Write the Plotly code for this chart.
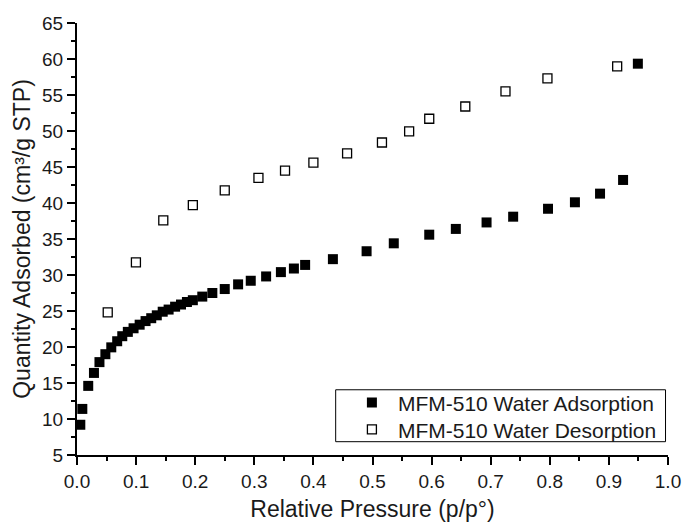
import plotly.graph_objects as go

# MFM-510 water isotherm, relative pressure vs. uptake
ads_p = [0.0056, 0.009, 0.019, 0.0287, 0.038, 0.048, 0.058, 0.068, 0.0766, 0.086,
         0.0957, 0.106, 0.116, 0.1256, 0.135, 0.145, 0.155, 0.166, 0.176, 0.186,
         0.196, 0.212, 0.229, 0.25, 0.2726, 0.294, 0.320, 0.345, 0.367, 0.386,
         0.433, 0.49, 0.536, 0.596, 0.641, 0.693, 0.738, 0.797, 0.8425, 0.885,
         0.924, 0.949]
ads_q = [9.2, 11.4, 14.6, 16.4, 17.9, 19.0, 19.95, 20.8, 21.5, 22.1,
         22.6, 23.1, 23.6, 24.0, 24.4, 24.9, 25.2, 25.6, 25.9, 26.25,
         26.5, 27.0, 27.5, 28.05, 28.7, 29.2, 29.8, 30.4, 30.9, 31.4,
         32.2, 33.3, 34.4, 35.6, 36.4, 37.3, 38.1, 39.2, 40.1, 41.3,
         43.2, 59.35]

des_p = [0.052, 0.0997, 0.146, 0.196, 0.25, 0.307, 0.352, 0.40, 0.457, 0.516,
         0.562, 0.596, 0.657, 0.725, 0.796, 0.914]
des_q = [24.8, 31.75, 37.6, 39.7, 41.75, 43.5, 44.5, 45.6, 46.9, 48.4,
         49.95, 51.7, 53.4, 55.5, 57.3, 58.97]

x_ticks = [0.0, 0.1, 0.2, 0.3, 0.4, 0.5, 0.6, 0.7, 0.8, 0.9, 1.0]
x_labels = ["0.0", "0.1", "0.2", "0.3", "0.4", "0.5", "0.6", "0.7", "0.8", "0.9", "1.0"]
y_ticks = [5, 10, 15, 20, 25, 30, 35, 40, 45, 50, 55, 60, 65]

FONT = "Liberation Sans, Arial, sans-serif"
INK = "#1a1a1a"

fig = go.Figure()
fig.add_trace(go.Scatter(
    x=ads_p, y=ads_q, mode="markers", name="MFM-510 Water Adsorption",
    marker=dict(symbol="square", size=10, color="black", line=dict(width=0)),
    legend="legend",
))
fig.add_trace(go.Scatter(
    x=des_p, y=des_q, mode="markers", name="MFM-510 Water Desorption",
    marker=dict(symbol="square-open", size=9, color="black", line=dict(width=1.3, color="black")),
    legend="legend2",
))

axis_common = dict(
    showline=True, linecolor="black", linewidth=2, mirror=False,
    ticks="outside", ticklen=8, tickwidth=2, tickcolor="black",
    showgrid=False, zeroline=False, automargin=False,
    tickfont=dict(family=FONT, size=19, color=INK),
)

fig.update_xaxes(
    range=[0, 1], tickvals=x_ticks, ticktext=x_labels,
    minor=dict(ticks="outside", ticklen=4, tickwidth=2, tickcolor="black", dtick=0.05, showgrid=False),
    title=dict(text="Relative Pressure (p/p°)", font=dict(family=FONT, size=23, color=INK), standoff=10),
    **axis_common,
)
fig.update_yaxes(
    range=[5, 65], tickvals=y_ticks,
    minor=dict(ticks="outside", ticklen=4, tickwidth=2, tickcolor="black", dtick=2.5, showgrid=False),
    title=dict(text="Quantity Adsorbed (cm³/g STP)", font=dict(family=FONT, size=23, color=INK), standoff=5),
    **axis_common,
)

# legend frame
fig.add_shape(type="rect", xref="paper", yref="paper",
              x0=0.4377, x1=0.9958, y0=0.0308, y1=0.151,
              line=dict(color="black", width=1), fillcolor="white", layer="below")

legend_common = dict(
    xanchor="left", yanchor="middle",
    bgcolor="rgba(0,0,0,0)", borderwidth=0,
    font=dict(family=FONT, size=21, color=INK),
    itemwidth=42,
)

fig.update_layout(
    width=686, height=527,
    margin=dict(l=77, r=18, t=23, b=72),
    paper_bgcolor="white", plot_bgcolor="white",
    font=dict(family=FONT, color=INK),
    legend=dict(x=0.455, y=0.121, **legend_common),
    legend2=dict(x=0.455, y=0.0586, **legend_common),
    showlegend=True,
)

fig.write_html("out.html")
